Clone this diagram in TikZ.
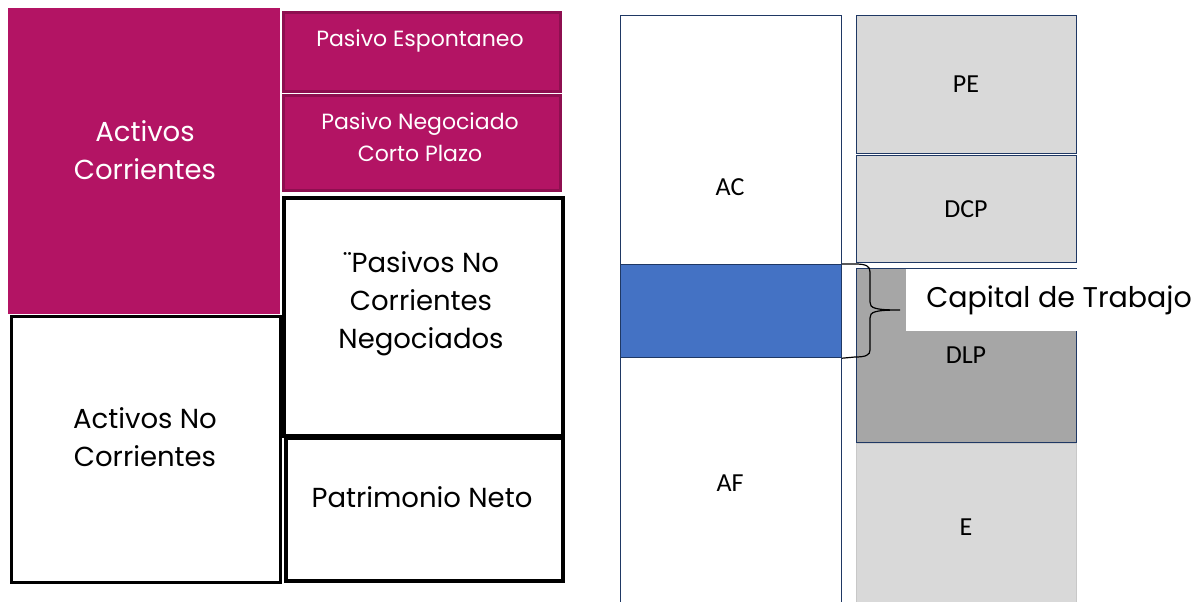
\documentclass[tikz,border=0pt]{standalone}
\usepackage{fontspec}
\setmainfont{Poppins}
\newfontfamily\calib{Carlito}
\definecolor{mag}{HTML}{B31464}
\definecolor{magdark}{HTML}{8E0F50}
\definecolor{navy}{HTML}{1F3864}
\definecolor{blueband}{HTML}{4472C4}
\definecolor{lgrey}{HTML}{D9D9D9}
\definecolor{dgrey}{HTML}{A6A6A6}
\definecolor{egrey}{HTML}{C8C8C8}
\begin{document}
\begin{tikzpicture}[x=1pt,y=-1pt,
  box/.style={rectangle, inner sep=0pt, anchor=north west},
  magbox/.style={box, fill=mag, draw=magdark, line width=3pt},
  blkbox/.style={box, fill=white, draw=black, line width=3.5pt},
  navbox/.style={box, draw=navy, line width=1.2pt},
  bigtxt/.style={align=center, font=\fontsize{27.5}{38}\selectfont},
  smtxt/.style={align=center, font=\fontsize{22}{32}\selectfont, text=white},
  cal/.style={font=\calib\fontsize{26}{30}\selectfont}]
\useasboundingbox (0,0) rectangle (1204,602);
\fill[white] (0,0) rectangle (1204,602);
% ---------- left panel ----------
\node[box, fill=mag, minimum width=272pt, minimum height=306pt] (acL) at (8,8) {};
\node[magbox, minimum width=277pt, minimum height=79pt] (peL) at (282,11) {};
\node[magbox, minimum width=277pt, minimum height=95pt] (pncp) at (282,94) {};
\node[blkbox, line width=4pt, minimum width=279pt, minimum height=238pt] (pnc) at (282,196) {};
\node[blkbox, minimum width=277pt, minimum height=143pt] (pn) at (284,436) {};
\node[blkbox, line width=3pt, minimum width=269pt, minimum height=266pt] (anc) at (10,315) {};
\node[bigtxt, text=white] (tacL) at (145,150) {Activos\\Corrientes};
\node[smtxt] (tpe) at (420,41) {Pasivo Espontaneo};
\node[smtxt] (tpncp) at (420,137) {Pasivo Negociado\\Corto Plazo};
\node[bigtxt] (tpnc) at (421,304) {¨Pasivos No\\Corrientes\\Negociados};
\node[bigtxt] (tpn) at (422,497) {Patrimonio Neto};
\node[bigtxt] (tanc) at (145,437) {Activos No\\Corrientes};
% ---------- right panel ----------
\node[navbox, fill=white, minimum width=221pt, minimum height=249pt] (acR) at (620,15) {};
\node[navbox, fill=blueband, minimum width=221pt, minimum height=93pt] (band) at (620,264) {};
\node[navbox, fill=white, minimum width=221pt, minimum height=252pt] (afR) at (620,357) {};
\node[navbox, fill=lgrey, minimum width=220pt, minimum height=138pt] (peR) at (856,15) {};
\node[navbox, fill=lgrey, minimum width=220pt, minimum height=107pt] (dcp) at (856,155) {};
\node[navbox, fill=dgrey, minimum width=220pt, minimum height=174pt] (dlp) at (856,268) {};
\node[box, fill=lgrey, draw=egrey, line width=1.2pt, minimum width=220pt, minimum height=170pt] (eR) at (856,443) {};
\node[box, fill=white, minimum width=298pt, minimum height=62pt] (ctbox) at (906,269) {};
\node[font=\fontsize{28.5}{32}\selectfont] (ct) at (1059,300) {Capital de Trabajo};
\node[cal] (tac) at (730,187) {AC};
\node[cal] (taf) at (730,483) {AF};
\node[cal] (tpeR) at (966,84) {PE};
\node[cal] (tdcp) at (966,209) {DCP};
\node[cal] (tdlp) at (966,355) {DLP};
\node[cal] (te) at (966,527) {E};
% brace
\coordinate (bt) at (band.north east);
\coordinate (bb) at (band.south east);
\coordinate (tip) at (900,310);
\draw[line width=1.2pt, black] (bt) -- (855,264) .. controls (866,264) and (870,266) .. (870,272) -- (870,302)
  .. controls (870,308) and (874,310) .. (tip)
  .. controls (874,310) and (870,312) .. (870,318) -- (870,350)
  .. controls (870,355) and (866,357) .. (855,357) -- (bb);
\end{tikzpicture}
\end{document}
